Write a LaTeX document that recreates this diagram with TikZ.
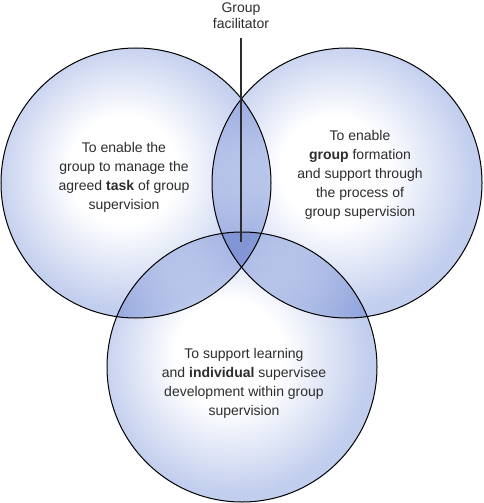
\documentclass[tikz,border=0pt]{standalone}
\usepackage{fontspec}
\setmainfont{Liberation Sans}
\usetikzlibrary{positioning}

\definecolor{edgeblue}{RGB}{194,206,238}
\definecolor{inkgrey}{RGB}{45,45,45}
\pgfdeclareradialshading{bubble}{\pgfpoint{-3bp}{3bp}}{color(0bp)=(white); color(10bp)=(white); color(25bp)=(edgeblue); color(50bp)=(edgeblue)}

\begin{document}
\begin{tikzpicture}[x=1pt, y=-1pt,
        ring/.style={circle, draw=black, line width=1pt, minimum size=270pt, inner sep=0pt, shading=bubble, blend mode=multiply},
        aim/.style={align=center, text=inkgrey, font=\fontsize{14}{19}\selectfont},
        facline/.style={draw=inkgrey, line width=1.4pt, shorten <=9pt}]
        \useasboundingbox (0,0) rectangle (484,503);

        % Three overlapping circles
        \node[ring] (task) at (136,183) {};
        \node[ring] (group) at (347,183) {};
        \node[ring] (indiv) at (242,367) {};

        % Texts inside the circles
        \node[aim] (tasktext) at (124,177) {To enable the\\group to manage the\\agreed \textbf{task} of group\\supervision};
        \node[aim] (grouptext) at (360,175) {To enable\\\textbf{group} formation\\and support through\\the process of\\group supervision};
        \node[aim] (indivtext) at (244,383) {To support learning\\and \textbf{individual} supervisee\\development within group\\supervision};

        % Facilitator in the middle
        \node[aim, anchor=north, inner sep=0pt, font=\fontsize{14}{16}\selectfont] (facil) at (241,3) {Group\\facilitator};
        \coordinate (hub) at (241,242);
        \draw[facline] (facil) -- (hub);
    \end{tikzpicture}
\end{document}
